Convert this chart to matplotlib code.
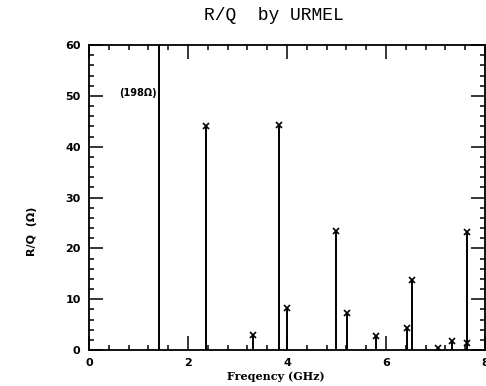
import numpy as np
import matplotlib
matplotlib.use("Agg")
import matplotlib.pyplot as plt
from matplotlib.ticker import MultipleLocator

# modes with R/Q marked by a cross (GHz, Ohm)
freq = [2.36, 3.31, 3.83, 4.01, 5.00, 5.21, 5.80, 6.42, 6.53, 7.05, 7.33, 7.64, 7.64]
rq = [44.0, 3.0, 44.2, 8.2, 23.5, 7.3, 2.8, 4.3, 13.8, 0.4, 1.8, 23.2, 1.4]

# off-scale mode
big_freq = 1.42
big_rq = 198.0
big_label = "(198\u03a9)"

plt.rcParams['font.family'] = ['DejaVu Sans']

fig = plt.figure(figsize=(4.86, 3.86), dpi=100)
ax = fig.add_axes([0.183, 0.093, 0.815, 0.790])

ax.vlines(freq, 0, rq, colors='k', lw=1.4)
ax.plot(freq, rq, 'x', color='k', ms=5, mew=1.2)
ax.vlines([big_freq], 0, [big_rq], colors='k', lw=1.4)
ax.text(big_freq - 0.05, 50.6, big_label, ha='right', va='center',
        fontsize=7, fontweight='bold')

ax.set_xlim(0, 8)
ax.set_ylim(0, 60)
ax.xaxis.set_major_locator(MultipleLocator(2))
ax.xaxis.set_minor_locator(MultipleLocator(0.4))
ax.yaxis.set_major_locator(MultipleLocator(10))
ax.yaxis.set_minor_locator(MultipleLocator(2))
ax.tick_params(which='both', direction='in', top=True, right=True, width=1.1,
               labelsize=8, pad=6)
ax.tick_params(which='major', length=10)
ax.tick_params(which='minor', length=3.5)
for lab in ax.get_xticklabels() + ax.get_yticklabels():
    lab.set_fontweight('bold')
for s in ax.spines.values():
    s.set_linewidth(1.3)

fig.text(0.564, 0.961, "R/Q  by URMEL", ha='center', va='center',
         fontsize=13, family='Liberation Mono')
fig.text(0.568, 0.024, "Freqency (GHz)", ha='center', va='center',
         fontsize=8, fontweight='bold', family='DejaVu Serif')
fig.text(0.066, 0.40, "R/Q  (\u03a9)", ha='center', va='center', rotation=90,
         fontsize=8, fontweight='bold')

fig.savefig("out.png", dpi=100)
